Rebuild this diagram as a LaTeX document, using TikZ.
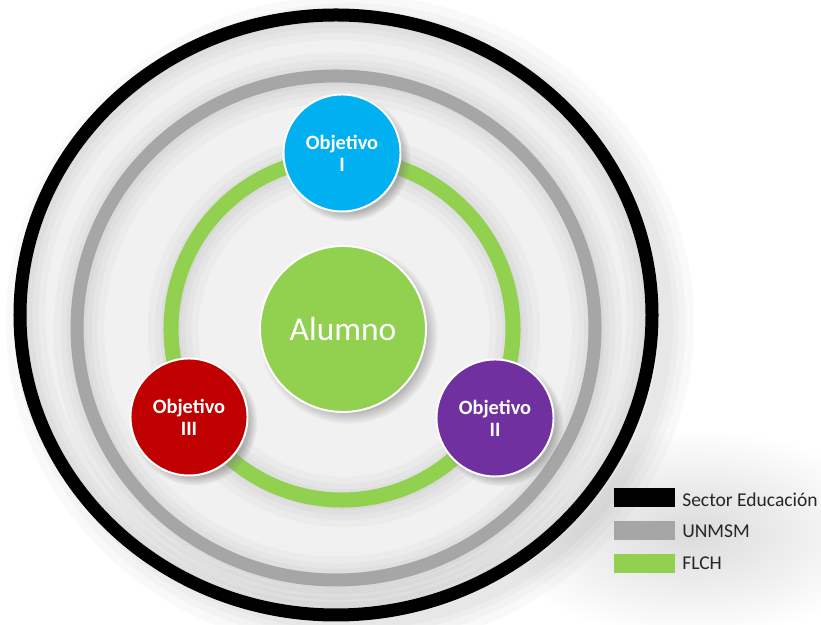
\documentclass[tikz,border=0pt]{standalone}
\usepackage{fontspec}
\setmainfont{Carlito}
\usetikzlibrary{shadows}
\definecolor{objcyan}{HTML}{00B0F0}
\definecolor{objred}{HTML}{C00000}
\definecolor{objpurple}{HTML}{7030A0}
\definecolor{flchgreen}{HTML}{92D050}
\definecolor{unmsmgray}{HTML}{A6A6A6}
\definecolor{bgfill}{HTML}{F1F1F1}
\tikzset{
  objnode/.style={circle, draw=white, line width=1.4pt, minimum size=2.925cm, inner sep=0pt,
    text=white, align=center, font=\fontsize{14.5}{15.6}\selectfont\bfseries,
    circular drop shadow={shadow xshift=0.12cm, shadow yshift=-0.12cm, shadow scale=1.08, opacity=0.55}},
  glow/.style={draw=black, opacity=0.025, line width=#1},
  legbox/.style={minimum width=1.525cm, minimum height=0.475cm, inner sep=0pt},
  legtext/.style={anchor=base west, inner sep=0pt, font=\fontsize{13.9}{16}\selectfont, text=black!85},
}
\begin{document}
\begin{tikzpicture}
\useasboundingbox (0,0) rectangle (20.525,15.625);
%\draw[step=1cm,gray,very thin] (0,0) grid (20.5,15.6); %background grid

% soft shadows outside
\shade[inner color=black!14, outer color=white] (17.3,2.3) ellipse (5 and 2.6);
\foreach \w in {40pt,28pt,18pt,10pt}{
  \draw[glow=\w] (8.75,7.55) ellipse (7.9 and 7.5);
}

% background and soft shadows inside
\fill[bgfill] (8.4,7.75) ellipse (7.9 and 7.5);
\begin{scope}
\clip (8.4,7.75) ellipse (7.9 and 7.5);
\foreach \w in {36pt,26pt,18pt,11pt,6pt}{
  \draw[glow=\w] (8.4,7.75) ellipse (7.9 and 7.5);
  \draw[glow=\w] (8.45,7.38) ellipse (6.475 and 6.3);
  \draw[glow=\w] (8.6,7.35) circle (4.275);
}
\end{scope}

% rings
\draw[black,line width=9.25pt] (8.4,7.75) ellipse (7.9 and 7.5); %Sector
\draw[unmsmgray,line width=9.25pt] (8.4,7.425) ellipse (6.475 and 6.3); %UNMSM
\draw[flchgreen,line width=10.7pt] (8.55,7.4) circle (4.275); %FLCH

% nodes
\node[objnode, fill=flchgreen, minimum size=4.15cm, font=\fontsize{23.8}{28}\selectfont] (alumno) at (8.575,7.4) {Alumno};
\node[objnode, fill=objcyan]   (obj1) at (8.55,11.8)  {Objetivo\\I};
\node[objnode, fill=objpurple] (obj2) at (12.375,5.175) {Objetivo\\II};
\node[objnode, fill=objred]    (obj3) at (4.725,5.2)  {Objetivo\\III};

% legend
\node[legbox, fill=black]      (legsector) at (16.1125,3.1875) {};
\node[legbox, fill=unmsmgray]  (legunmsm)  at (16.1125,2.35) {};
\node[legbox, fill=flchgreen]  (legflch)   at (16.1125,1.5375) {};
\node[legtext] (txtsector) at (17.05,2.96)  {Sector Educación};
\node[legtext] (txtunmsm)  at (17.05,2.18)  {UNMSM};
\node[legtext] (txtflch)   at (17.05,1.375) {FLCH};
\end{tikzpicture}
\end{document}
